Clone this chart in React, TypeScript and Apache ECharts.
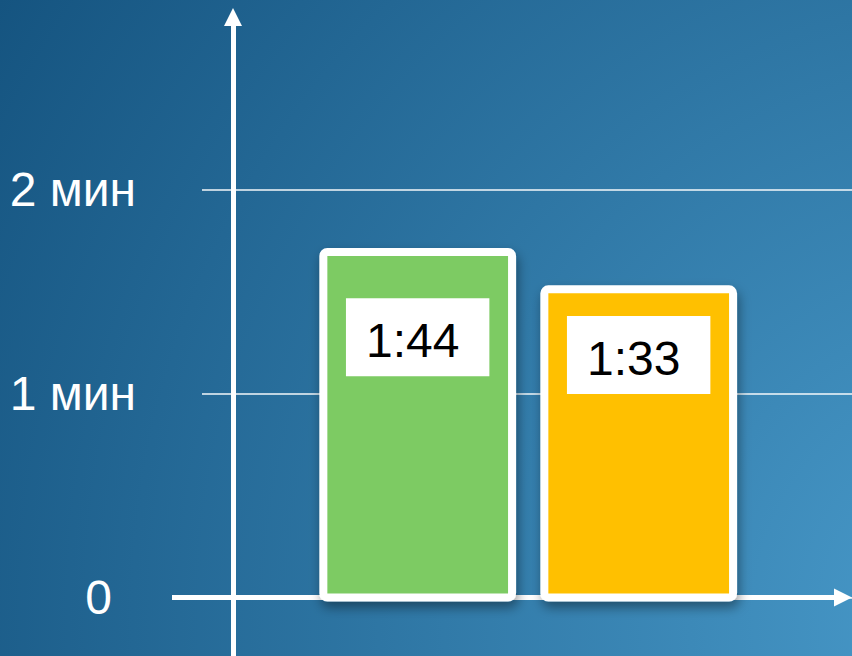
import React, { useEffect, useRef } from 'react';
import * as echarts from 'echarts';

// Two timed results, in seconds
const categories = ['first', 'second'];
const durationsSec = [104, 93];
const barColors = ['#7dcb64', '#ffc000'];

// Y axis: one tick per minute
const tickStepSec = 60;
const yTickLabels = ['0', '1 мин', '2 мин'];

const W = 852;
const H = 656;
const FONT = '"Liberation Sans", Arial, sans-serif';

// Vertical layout: seconds to pixels
const zeroY = 597.5; // the arrowed x axis and the minute grid's zero
const barBaseY = 601.5; // bars stand slightly lower, their border hiding the axis
const pxPerSec = 3.4;

// Value labels sit in white boxes inside the bars (offset from the bar's top-left)
const labelAnchors = [
  [26.6, 50.4],
  [26.6, 30.7],
];

const toMinSec = (sec: number) => {
  const m = Math.floor(sec / 60);
  const s = Math.round(sec % 60);
  return `${m}:${String(s).padStart(2, '0')}`;
};

export default function App() {
  const ref = useRef<HTMLDivElement>(null);

  useEffect(() => {
    document.body.style.margin = '0';
    if (!ref.current) return;
    const chart = echarts.init(ref.current, null, { renderer: 'svg' });

    const frameAxisLine = {
      show: true,
      lineStyle: { color: '#ffffff', width: 5, cap: 'butt' },
      symbol: ['none', 'triangle'],
      symbolSize: [18, 18],
    };

    const option = {
      animation: false,
      backgroundColor: 'transparent',
      grid: [
        // bars
        { left: 307.2, right: 102.8, top: 0, bottom: H - barBaseY },
        // minute grid lines and labels
        { left: 202, right: 0, top: 0, bottom: H - zeroY },
        // arrowed frame axes
        { left: 172, right: 9, top: 17, bottom: 0 },
      ],
      xAxis: [
        {
          gridIndex: 0,
          type: 'category',
          data: categories,
          show: false,
        },
        {
          gridIndex: 1,
          type: 'value',
          min: 0,
          max: 1,
          show: false,
        },
        {
          gridIndex: 2,
          type: 'value',
          min: 0,
          max: 1,
          axisLine: { ...frameAxisLine, onZero: true },
          axisTick: { show: false },
          axisLabel: { show: false },
          splitLine: { show: false },
        },
      ],
      yAxis: [
        {
          gridIndex: 0,
          type: 'value',
          min: 0,
          max: barBaseY / pxPerSec,
          show: false,
        },
        {
          gridIndex: 1,
          type: 'value',
          min: 0,
          max: zeroY / pxPerSec,
          interval: tickStepSec,
          axisLine: { show: false },
          axisTick: { show: false },
          splitLine: {
            show: true,
            showMaxLine: false,
            lineStyle: { color: 'rgba(255,255,255,0.95)', width: 1.5 },
          },
          axisLabel: {
            show: true,
            showMaxLabel: false,
            margin: 66,
            color: '#ffffff',
            fontSize: 48,
            fontFamily: FONT,
            formatter: (v: number) => {
              if (Math.abs(v % tickStepSec) > 1e-6) return '';
              const idx = Math.round(v / tickStepSec);
              const text = yTickLabels[idx] ?? '';
              if (idx === 0) return `{z|${text}}`;
              return text;
            },
            rich: {
              z: {
                color: '#ffffff',
                fontSize: 48,
                fontFamily: FONT,
                padding: [0, 24, 0, 0],
              },
            },
          },
        },
        {
          gridIndex: 2,
          type: 'value',
          min: -(H - zeroY) / pxPerSec,
          max: (zeroY - 17) / pxPerSec,
          offset: -(233 - 172),
          axisLine: { ...frameAxisLine, onZero: false },
          axisTick: { show: false },
          axisLabel: { show: false },
          splitLine: { show: false },
        },
      ],
      series: [
        {
          type: 'bar',
          xAxisIndex: 0,
          yAxisIndex: 0,
          barWidth: 196.7,
          z: 5,
          itemStyle: {
            borderColor: '#ffffff',
            borderWidth: 8,
            borderRadius: 4,
            shadowColor: 'rgba(0,0,0,0.4)',
            shadowBlur: 12,
            shadowOffsetX: 2,
            shadowOffsetY: 6,
          },
          label: {
            show: true,
            formatter: (p: any) => toMinSec(p.value),
            color: '#000000',
            fontSize: 48,
            lineHeight: 48,
            fontFamily: FONT,
            backgroundColor: '#ffffff',
            padding: [18, 30, 12, 20],
            align: 'left',
            verticalAlign: 'top',
          },
          data: durationsSec.map((v, i) => ({
            value: v,
            itemStyle: { color: barColors[i] },
            label: { position: labelAnchors[i] },
          })),
        },
      ],
    };

    chart.setOption(option as any);
    return () => chart.dispose();
  }, []);

  return (
    <div
      ref={ref}
      style={{
        width: W,
        height: H,
        background:
          'radial-gradient(circle 1177px at 1000px 620px, #4a9ccc 0%, #155480 100%)',
      }}
    />
  );
}
